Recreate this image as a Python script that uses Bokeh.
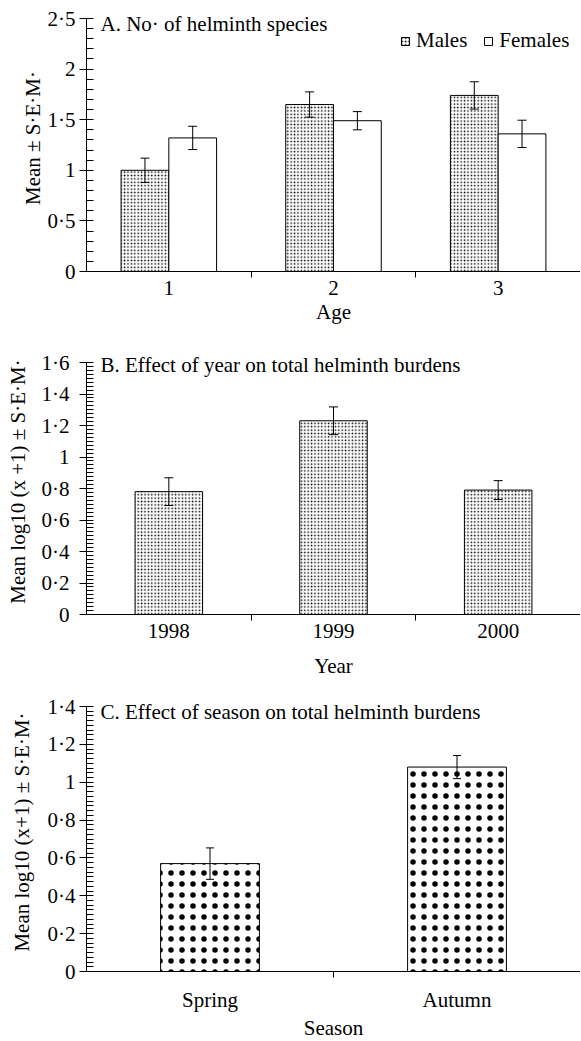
from bokeh.plotting import figure
from bokeh.models import (ColumnDataSource, Range1d, FixedTicker, CustomJSTickFormatter,
                          Whisker, TeeHead, Label, Legend, LegendItem)
from bokeh.layouts import column
from bokeh.transform import dodge
from bokeh.embed import file_html
from bokeh.resources import INLINE
import numpy as np

# ---------------- data ----------------
age_categories = ["1", "2", "3"]
males_mean = [1.00, 1.65, 1.74]
males_sem = [0.12, 0.125, 0.135]
females_mean = [1.32, 1.49, 1.36]
females_sem = [0.115, 0.09, 0.135]

year_categories = ["1998", "1999", "2000"]
year_mean = [0.78, 1.23, 0.79]
year_sem = [0.088, 0.088, 0.06]

season_categories = ["Spring", "Autumn"]
season_mean = [0.57, 1.08]
season_sem = [0.083, 0.061]

# ---------------- style ----------------
FONT = "Liberation Serif"
FS = "21px"
LEFT = 86
FRAME_W = 494
PAD = 14  # extra frame room above the top tick, so the panel titles are not clipped

fmt = CustomJSTickFormatter(code="""
const v = Math.round(tick * 10) / 10;
return v.toString().replace(".", "\u00b7");
""")

FINE = dict(hatch_pattern="dot", hatch_scale=3.4, hatch_weight=2, hatch_color="black")


def base_fig(cats, frame_h, bt, bb, ymax, ymajor, yminor, title, ylabel, xlabel,
             ylab_standoff, yaxis_standoff, xlab_standoff, xaxis_standoff, title_dy):
    n = len(cats)
    p = figure(frame_width=FRAME_W, frame_height=frame_h + PAD,
               x_range=Range1d(0.5, n + 0.5),
               y_range=Range1d(0, ymax * (frame_h + PAD) / frame_h),
               output_backend="svg", toolbar_location=None,
               min_border_left=LEFT, min_border_right=0, min_border_top=bt - PAD,
               min_border_bottom=bb, outline_line_color=None,
               background_fill_color="white", border_fill_color="white")
    p.grid.grid_line_color = None
    ya = p.yaxis[0]
    ya.bounds = (0, ymax)
    ya.ticker = FixedTicker(ticks=list(np.round(np.arange(0, ymax + 1e-9, ymajor), 4)),
                            minor_ticks=list(np.round(np.arange(0, ymax + 1e-9, yminor), 4)))
    ya.formatter = fmt
    ya.major_tick_out = 7
    ya.major_tick_in = 4
    ya.minor_tick_in = 7
    ya.minor_tick_out = 0
    ya.major_label_standoff = ylab_standoff
    ya.axis_label = ylabel
    ya.axis_label_standoff = yaxis_standoff
    xa = p.xaxis[0]
    xa.ticker = FixedTicker(ticks=[i + 1 for i in range(n)],
                            minor_ticks=[i + 1.5 for i in range(n - 1)])
    xa.major_label_overrides = {i + 1: c for i, c in enumerate(cats)}
    xa.major_tick_out = 0
    xa.major_tick_in = 0
    xa.minor_tick_in = 0
    xa.minor_tick_out = 6
    xa.major_label_standoff = xlab_standoff
    xa.axis_label = xlabel
    xa.axis_label_standoff = xaxis_standoff
    for ax in (xa, ya):
        ax.axis_line_color = "black"
        ax.major_tick_line_color = "black" if ax is ya else None
        ax.minor_tick_line_color = "black"
        ax.major_label_text_font = FONT
        ax.major_label_text_font_size = FS
        ax.major_label_text_color = "black"
        ax.axis_label_text_font = FONT
        ax.axis_label_text_font_size = FS
        ax.axis_label_text_font_style = "normal"
        ax.axis_label_text_color = "black"
    p.add_layout(Label(x=0.5, y=ymax, x_offset=14, y_offset=-title_dy, text=title,
                       text_font=FONT, text_font_size=FS, text_color="black",
                       text_baseline="alphabetic", text_align="left"))
    return p


def whisker(src, base, lo, hi, size=9):
    return Whisker(source=src, base=base, lower=lo, upper=hi, dimension="height",
                   level="overlay", line_color="black", line_width=1,
                   upper_head=TeeHead(size=size, line_color="black", line_width=1),
                   lower_head=TeeHead(size=size, line_color="black", line_width=1))


# ---------------- panel A ----------------
pA = base_fig(age_categories, 253, 18, 54, 2.5, 0.5, 0.1,
              "A. No\u00b7 of helminth species", "Mean \u00b1 S\u00b7E\u00b7M\u00b7", "Age",
              4, 0, 3, 2, 5)
srcA = ColumnDataSource(dict(
    x=[i + 1 for i in range(len(age_categories))],
    m=males_mean, m_lo=[a - b for a, b in zip(males_mean, males_sem)],
    m_hi=[a + b for a, b in zip(males_mean, males_sem)],
    f=females_mean, f_lo=[a - b for a, b in zip(females_mean, females_sem)],
    f_hi=[a + b for a, b in zip(females_mean, females_sem)],
))
rm = pA.vbar(x=dodge("x", -0.145), top="m", width=0.29, source=srcA,
             fill_color="white", line_color="black", line_width=1, **FINE)
rf = pA.vbar(x=dodge("x", 0.145), top="f", width=0.29, source=srcA,
             fill_color="white", line_color="black", line_width=1)
pA.add_layout(whisker(srcA, dodge("x", -0.145), "m_lo", "m_hi"))
pA.add_layout(whisker(srcA, dodge("x", 0.145), "f_lo", "f_hi"))
legend = Legend(items=[LegendItem(label="Males", renderers=[rm]),
                       LegendItem(label="Females", renderers=[rf])],
                orientation="horizontal", location=(314, 218),
                glyph_width=10, glyph_height=10, label_standoff=6, spacing=16,
                padding=0, margin=0, border_line_color=None, background_fill_alpha=0,
                label_text_font=FONT, label_text_font_size=FS, label_text_color="black")
pA.add_layout(legend)

# ---------------- panel B ----------------
pB = base_fig(year_categories, 252, 36, 64, 1.6, 0.2, 0.025,
              "B. Effect of year on total helminth burdens",
              "Mean log10 (x +1) \u00b1 S\u00b7E\u00b7M\u00b7", "Year",
              10, 9, 3, 13, 2)
srcB = ColumnDataSource(dict(
    x=[i + 1 for i in range(len(year_categories))], y=year_mean,
    lo=[a - b for a, b in zip(year_mean, year_sem)],
    hi=[a + b for a, b in zip(year_mean, year_sem)]))
pB.vbar(x="x", top="y", width=0.41, source=srcB, fill_color="white",
        line_color="black", line_width=1, **FINE)
pB.add_layout(whisker(srcB, "x", "lo", "hi"))

# ---------------- panel C ----------------
pC = base_fig(season_categories, 265, 26, 72, 1.4, 0.2, 0.025,
              "C. Effect of season on total helminth burdens",
              "Mean log10 (x+1) \u00b1 S\u00b7E\u00b7M\u00b7", "Season",
              4, 11, 10, 1, 5)
srcC = ColumnDataSource(dict(
    x=[i + 1 for i in range(len(season_categories))], y=season_mean,
    lo=[a - b for a, b in zip(season_mean, season_sem)],
    hi=[a + b for a, b in zip(season_mean, season_sem)]))
pC.vbar(x="x", top="y", width=0.40, source=srcC, fill_color="white",
        line_color="black", line_width=1, hatch_pattern="dot", hatch_scale=11,
        hatch_color="black")
pC.add_layout(whisker(srcC, "x", "lo", "hi", size=8))

layout = column(pA, pB, pC, spacing=0)
open("out.html", "w").write(file_html(layout, INLINE))
